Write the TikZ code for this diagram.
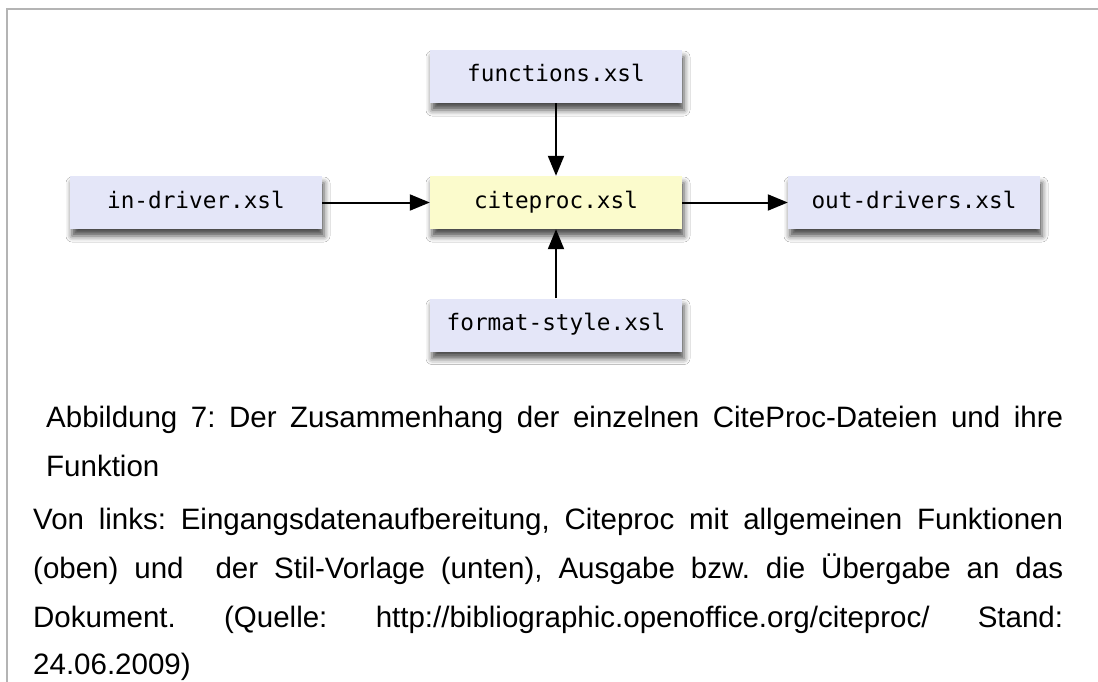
\documentclass[tikz,border=0pt]{standalone}
\usepackage{fontspec}
\setmainfont{Liberation Sans}
\newfontfamily\boxmono{DejaVu Sans Mono}
\usetikzlibrary{arrows.meta,shadows.blur}
\frenchspacing

\definecolor{boxblue}{HTML}{E4E6F8}
\definecolor{boxyellow}{HTML}{FBFBCC}
\definecolor{framegray}{HTML}{B4B4B4}

\tikzset{
  filebox/.style={minimum width=252pt, minimum height=53pt, inner sep=0pt,
    text height=16pt, text depth=5pt,
    fill=boxblue, font=\boxmono\fontsize{22.7}{26}\selectfont,
    blur shadow={shadow xshift=2pt, shadow yshift=-7pt, shadow blur radius=6pt,
      shadow opacity=70}},
  corebox/.style={filebox, fill=boxyellow},
  flow/.style={line width=2pt, -{Triangle[length=20pt,width=16pt]}},
  capline/.style={anchor=base west, inner sep=0pt,
    font=\fontsize{29.5}{34}\selectfont}
}

\begin{document}
\begin{tikzpicture}[x=1pt,y=-1pt]
  \useasboundingbox (0,0) rectangle (1098,682);
  \fill[white] (0,0) rectangle (1098,682);

  % page frame
  \draw[framegray, line width=1.5pt] (7,682) -- (7,9) -- (1098,9);

  % the stylesheet modules
  \node[filebox] (func) at (556,76.5) {functions.xsl};
  \node[filebox] (indrv) at (196,202.5) {in-driver.xsl};
  \node[corebox] (cite) at (556,202.5) {citeproc.xsl};
  \node[filebox] (outdrv) at (914,202.5) {out-drivers.xsl};
  \node[filebox] (fmt) at (556,325) {format-style.xsl};

  % data flow
  \draw[flow] (indrv.east) -- (cite.west);
  \draw[flow] (cite.east) -- (outdrv.west);
  \draw[flow] (func.south) -- (cite.north);
  \draw[flow] (fmt.north) -- (cite.south);

  % caption
  \node[capline] (c1) at (46,427) {\makebox[1017pt][s]{Abbildung 7: Der Zusammenhang der einzelnen CiteProc-Dateien und ihre}};
  \node[capline] (c2) at (46,476) {Funktion};
  \node[capline] (c3) at (33,529) {\makebox[1030pt][s]{Von links: Eingangsdatenaufbereitung, Citeproc mit allgemeinen Funktionen}};
  \node[capline] (c4) at (33,578) {\makebox[1030pt][s]{(oben) und\ \ der Stil-Vorlage (unten), Ausgabe bzw. die Übergabe an das}};
  \node[capline] (c5) at (33,627) {\makebox[1030pt][s]{Dokument. (Quelle: http://bibliographic.openoffice.org/citeproc/ Stand:}};
  \node[capline] (c6) at (33,674) {24.06.2009)};
\end{tikzpicture}
\end{document}
